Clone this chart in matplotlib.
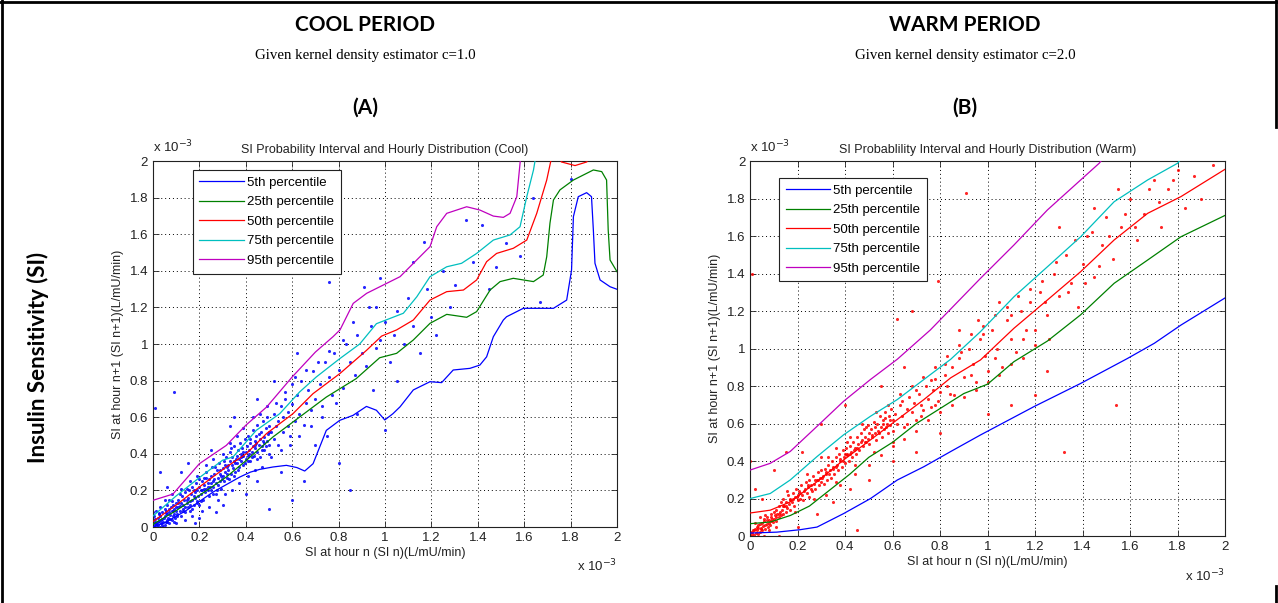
import matplotlib
matplotlib.use("Agg")
import matplotlib.pyplot as plt
from matplotlib.lines import Line2D
from matplotlib.ticker import FuncFormatter, MultipleLocator

# ---- data (units of 1e-3 L/mU/min) ----
percentiles = ["5th percentile", "25th percentile", "50th percentile",
               "75th percentile", "95th percentile"]

# cool period percentile curves
cool_p5_x = [0, 0.057, 0.144, 0.259, 0.374, 0.42, 0.46, 0.517, 0.575, 0.62, 0.654, 0.69, 0.747,
             0.805, 0.862, 0.92, 0.963, 0.999, 1.034, 1.065, 1.122, 1.194, 1.244, 1.294,
             1.366, 1.409, 1.438, 1.467, 1.51, 1.524, 1.596, 1.726, 1.783, 1.804, 1.812,
             1.833, 1.869, 1.89, 1.898, 1.905, 1.927, 1.97, 2.0]
cool_p5_y = [0, 0.027, 0.091, 0.191, 0.273, 0.3, 0.315, 0.328, 0.337, 0.325, 0.306, 0.346,
             0.528, 0.583, 0.61, 0.659, 0.638, 0.585, 0.619, 0.657, 0.749, 0.794, 0.789,
             0.858, 0.867, 0.885, 0.93, 1.04, 1.131, 1.149, 1.195, 1.195, 1.24, 1.404,
             1.696, 1.805, 1.827, 1.805, 1.623, 1.441, 1.35, 1.313, 1.299]
cool_p25_x = [0, 0.1, 0.2, 0.316, 0.402, 0.517, 0.632, 0.747, 0.876, 0.977, 1.05, 1.122,
              1.194, 1.266, 1.352, 1.395, 1.453, 1.496, 1.553, 1.64, 1.682, 1.697, 1.711,
              1.726, 1.754, 1.812, 1.898, 1.934, 1.955, 1.962, 1.97, 2.0]
cool_p25_y = [0.015, 0.09, 0.173, 0.273, 0.364, 0.492, 0.601, 0.71, 0.811, 0.925, 0.949, 1.022,
              1.113, 1.162, 1.146, 1.177, 1.295, 1.341, 1.359, 1.341, 1.377, 1.477, 1.66,
              1.787, 1.842, 1.896, 1.951, 1.942, 1.896, 1.623, 1.459, 1.395]
cool_p50_x = [0, 0.1, 0.2, 0.316, 0.402, 0.489, 0.603, 0.69, 0.805, 0.92, 0.985, 1.05,
              1.122, 1.194, 1.266, 1.338, 1.395, 1.438, 1.481, 1.553, 1.611, 1.654, 1.697,
              1.714, 1.74, 1.76, 1.819, 1.87, 1.89]
cool_p50_y = [0.03, 0.12, 0.219, 0.328, 0.4, 0.51, 0.619, 0.729, 0.838, 0.965, 1.043, 1.077,
              1.131, 1.24, 1.286, 1.295, 1.35, 1.45, 1.495, 1.523, 1.568, 1.714, 1.896,
              1.996, 2.1, 1.995, 1.975, 1.995, 2.1]
cool_p75_x = [0, 0.1, 0.2, 0.3, 0.345, 0.445, 0.546, 0.632, 0.704, 0.805, 0.891, 0.963,
              1.079, 1.137, 1.194, 1.266, 1.33, 1.395, 1.467, 1.539, 1.582, 1.611, 1.64, 1.66]
cool_p75_y = [0.06, 0.17, 0.27, 0.365, 0.383, 0.528, 0.619, 0.738, 0.82, 0.92, 1.0, 1.111,
              1.168, 1.258, 1.368, 1.422, 1.441, 1.495, 1.568, 1.596, 1.641, 1.805, 1.951, 2.1]
cool_p95_x = [0, 0.086, 0.2, 0.316, 0.4, 0.49, 0.6, 0.7, 0.776, 0.806, 0.863, 0.921, 0.978,
              1.065, 1.194, 1.223, 1.266, 1.352, 1.409, 1.467, 1.51, 1.539, 1.568, 1.582, 1.59]
cool_p95_y = [0.146, 0.18, 0.346, 0.446, 0.556, 0.656, 0.82, 0.956, 1.04, 1.077, 1.222,
              1.277, 1.313, 1.368, 1.532, 1.641, 1.714, 1.75, 1.732, 1.699, 1.692, 1.714,
              1.805, 1.987, 2.1]

# warm period percentile curves
warm_p5_x = [0, 0.113, 0.211, 0.282, 0.394, 0.507, 0.62, 0.732, 0.845, 0.97, 1.195, 1.392,
             1.589, 1.702, 1.814, 2.0]
warm_p5_y = [0.016, 0.021, 0.034, 0.048, 0.12, 0.2, 0.299, 0.37, 0.451, 0.539, 0.69, 0.814,
             0.947, 1.028, 1.125, 1.27]
warm_p25_x = [0, 0.085, 0.17, 0.25, 0.33, 0.42, 0.5, 0.6, 0.7, 0.8, 0.9, 1.0, 1.111, 1.252,
              1.392, 1.533, 1.674, 1.814, 2.0]
warm_p25_y = [0.066, 0.075, 0.11, 0.16, 0.24, 0.33, 0.42, 0.5, 0.6, 0.68, 0.76, 0.81, 0.93,
              1.04, 1.18, 1.348, 1.472, 1.596, 1.71]
warm_p50_x = [0, 0.085, 0.169, 0.282, 0.394, 0.507, 0.62, 0.732, 0.845, 0.97, 1.111, 1.252,
              1.392, 1.533, 1.674, 1.814, 2.0]
warm_p50_y = [0.123, 0.138, 0.182, 0.29, 0.406, 0.513, 0.621, 0.728, 0.844, 0.939, 1.108,
              1.259, 1.41, 1.579, 1.721, 1.81, 1.956]
warm_p75_x = [0, 0.085, 0.169, 0.282, 0.394, 0.507, 0.62, 0.732, 0.845, 0.97, 1.111, 1.252,
              1.392, 1.533, 1.674, 1.8, 1.82]
warm_p75_y = [0.2, 0.227, 0.299, 0.424, 0.54, 0.639, 0.728, 0.835, 0.943, 1.09, 1.276, 1.436,
              1.596, 1.783, 1.899, 1.988, 2.02]
warm_p95_x = [0, 0.085, 0.169, 0.282, 0.394, 0.507, 0.62, 0.759, 0.97, 1.111, 1.252, 1.392,
              1.47, 1.49]
warm_p95_y = [0.352, 0.388, 0.451, 0.585, 0.719, 0.835, 0.943, 1.099, 1.374, 1.552, 1.739,
              1.899, 1.988, 2.02]

# hourly SI pairs, cool period (SI n, SI n+1)
cool_pts = [
    (0.005, 0.01), (0.01, 0.0), (0.01, 0.03), (0.015, 0.02), (0.02, 0.05), (0.02, 0.01),
    (0.025, 0.035), (0.03, 0.0), (0.03, 0.06), (0.035, 0.02), (0.04, 0.045), (0.04, 0.08),
    (0.045, 0.03), (0.05, 0.06), (0.05, 0.01), (0.055, 0.09), (0.06, 0.04), (0.06, 0.07),
    (0.065, 0.05), (0.07, 0.1), (0.07, 0.02), (0.075, 0.065), (0.08, 0.085), (0.08, 0.04),
    (0.085, 0.12), (0.09, 0.07), (0.09, 0.1), (0.095, 0.05), (0.1, 0.09), (0.1, 0.13),
    (0.0, 0.04), (0.0, 0.08), (0.005, 0.06), (0.015, 0.09), (0.03, 0.11), (0.045, 0.0),
    (0.06, 0.12), (0.07, 0.15), (0.012, 0.015), (0.022, 0.028), (0.033, 0.04), (0.048, 0.052),
    (0.058, 0.025), (0.068, 0.08), (0.078, 0.11), (0.088, 0.06), (0.098, 0.11),
    (0.105, 0.07), (0.11, 0.11), (0.11, 0.15), (0.115, 0.09), (0.12, 0.13), (0.12, 0.06),
    (0.125, 0.17), (0.13, 0.12), (0.13, 0.1), (0.135, 0.15), (0.14, 0.08), (0.14, 0.19),
    (0.145, 0.13), (0.15, 0.16), (0.15, 0.11), (0.155, 0.2), (0.16, 0.14), (0.16, 0.09),
    (0.165, 0.18), (0.17, 0.15), (0.17, 0.22), (0.175, 0.12), (0.18, 0.19), (0.18, 0.16),
    (0.185, 0.24), (0.19, 0.14), (0.19, 0.2), (0.195, 0.17), (0.2, 0.22), (0.2, 0.12),
    (0.205, 0.18), (0.21, 0.25), (0.21, 0.2), (0.215, 0.15), (0.22, 0.23), (0.22, 0.27),
    (0.225, 0.19), (0.23, 0.21), (0.23, 0.3), (0.235, 0.24), (0.24, 0.17), (0.24, 0.26),
    (0.245, 0.22), (0.25, 0.28), (0.25, 0.2), (0.255, 0.33), (0.26, 0.25), (0.26, 0.22),
    (0.265, 0.29), (0.27, 0.24), (0.27, 0.18), (0.275, 0.31), (0.28, 0.27), (0.28, 0.23),
    (0.285, 0.35), (0.29, 0.29), (0.29, 0.25), (0.295, 0.21), (0.3, 0.32), (0.3, 0.28),
    (0.305, 0.25), (0.31, 0.34), (0.31, 0.3), (0.315, 0.38), (0.32, 0.27), (0.32, 0.33),
    (0.325, 0.31), (0.33, 0.36), (0.33, 0.41), (0.335, 0.29), (0.34, 0.34), (0.34, 0.38),
    (0.345, 0.32), (0.35, 0.44), (0.35, 0.36), (0.355, 0.3), (0.36, 0.39), (0.36, 0.35),
    (0.365, 0.42), (0.37, 0.37), (0.37, 0.33), (0.375, 0.46), (0.38, 0.4), (0.38, 0.36),
    (0.385, 0.43), (0.39, 0.34), (0.39, 0.39), (0.395, 0.48), (0.4, 0.41), (0.4, 0.37),
    (0.405, 0.44), (0.41, 0.39), (0.41, 0.5), (0.415, 0.42), (0.42, 0.36), (0.42, 0.46),
    (0.425, 0.41), (0.43, 0.44), (0.43, 0.53), (0.435, 0.39), (0.44, 0.47), (0.44, 0.43),
    (0.445, 0.5), (0.45, 0.41), (0.45, 0.56), (0.455, 0.45), (0.46, 0.48), (0.46, 0.38),
    (0.465, 0.52), (0.47, 0.44), (0.475, 0.58), (0.48, 0.49), (0.48, 0.42), (0.485, 0.54),
    (0.49, 0.47), (0.49, 0.6), (0.495, 0.51), (0.5, 0.45), (0.5, 0.55), (0.5, 0.4),
    (0.008, 0.045), (0.018, 0.0), (0.028, 0.075), (0.038, 0.01), (0.052, 0.1), (0.062, 0.03),
    (0.072, 0.045), (0.082, 0.14), (0.092, 0.03), (0.102, 0.06), (0.108, 0.13), (0.118, 0.18),
    (0.128, 0.085), (0.138, 0.11), (0.148, 0.21), (0.158, 0.12), (0.168, 0.1), (0.178, 0.2),
    (0.188, 0.13), (0.198, 0.26), (0.208, 0.14), (0.218, 0.21), (0.228, 0.27), (0.238, 0.2),
    (0.248, 0.24), (0.258, 0.18), (0.268, 0.33), (0.278, 0.2), (0.288, 0.31), (0.298, 0.26),
    (0.308, 0.36), (0.318, 0.29), (0.328, 0.26), (0.338, 0.43), (0.348, 0.28), (0.358, 0.37),
    (0.368, 0.31), (0.378, 0.38), (0.388, 0.41), (0.398, 0.35), (0.408, 0.36), (0.418, 0.48),
    (0.428, 0.38), (0.438, 0.45), (0.448, 0.37), (0.458, 0.51), (0.468, 0.42), (0.478, 0.46),
    (0.488, 0.44), (0.498, 0.52), (0.025, 0.07), (0.055, 0.075), (0.085, 0.09), (0.115, 0.115),
    (0.145, 0.145), (0.175, 0.17), (0.205, 0.205), (0.235, 0.22), (0.265, 0.265),
    (0.295, 0.28), (0.325, 0.34), (0.355, 0.35), (0.385, 0.39), (0.415, 0.4), (0.445, 0.46),
    (0.475, 0.47),
    (0.05, 0.15), (0.08, 0.18), (0.1, 0.02), (0.12, 0.21), (0.14, 0.04), (0.16, 0.25),
    (0.17, 0.06), (0.19, 0.28), (0.21, 0.09), (0.23, 0.34), (0.24, 0.11), (0.26, 0.37),
    (0.28, 0.15), (0.3, 0.4), (0.31, 0.18), (0.33, 0.46), (0.34, 0.2), (0.36, 0.5),
    (0.37, 0.24), (0.39, 0.54), (0.41, 0.28), (0.43, 0.6), (0.44, 0.31), (0.46, 0.62),
    (0.47, 0.33), (0.49, 0.66), (0.51, 0.38), (0.53, 0.68), (0.55, 0.42), (0.57, 0.74),
    (0.59, 0.45), (0.61, 0.82), (0.63, 0.5), (0.66, 0.86), (0.68, 0.55), (0.71, 0.9),
    (0.73, 0.6), (0.76, 0.96), (0.79, 0.68), (0.82, 1.02),
    (0.51, 0.52), (0.52, 0.48), (0.52, 0.62), (0.53, 0.55), (0.54, 0.45), (0.54, 0.58),
    (0.55, 0.66), (0.56, 0.52), (0.56, 0.6), (0.57, 0.7), (0.58, 0.55), (0.58, 0.63),
    (0.59, 0.5), (0.6, 0.67), (0.6, 0.78), (0.61, 0.58), (0.62, 0.72), (0.63, 0.62),
    (0.64, 0.8), (0.65, 0.56), (0.66, 0.68), (0.67, 0.75), (0.68, 0.64), (0.69, 0.85),
    (0.7, 0.7), (0.72, 0.78), (0.73, 0.66), (0.74, 0.9), (0.76, 0.82), (0.77, 0.72),
    (0.78, 0.95), (0.8, 0.86), (0.82, 0.76), (0.83, 1.0), (0.85, 0.9), (0.87, 0.83),
    (0.88, 1.05), (0.9, 0.95), (0.92, 0.88), (0.94, 1.1), (0.96, 0.98), (0.98, 1.02),
    (1.0, 1.12), (0.93, 1.2), (0.86, 1.12), (0.76, 1.34), (0.91, 1.31), (0.98, 1.36),
    (0.96, 1.2), (1.02, 0.9), (1.04, 1.05), (1.05, 1.18), (1.08, 1.0), (1.1, 1.25),
    (1.12, 1.1), (1.15, 0.95), (1.18, 1.3), (1.2, 1.15), (1.22, 1.05), (1.25, 1.4),
    (1.28, 1.2), (1.3, 1.32), (1.35, 1.68), (1.38, 1.45), (1.42, 1.65), (1.45, 1.3),
    (1.48, 1.42), (1.52, 1.55), (1.58, 1.48), (1.64, 1.8), (1.67, 1.23), (1.8, 1.9),
    (1.12, 1.45), (1.17, 1.56), (0.01, 0.65), (0.09, 0.74), (0.03, 0.3), (0.06, 0.22),
    (0.15, 0.35), (0.2, 0.05), (0.25, 0.42), (0.3, 0.12), (0.35, 0.6), (0.4, 0.18),
    (0.45, 0.25), (0.5, 0.1), (0.55, 0.3), (0.6, 0.15), (0.62, 0.95), (0.65, 0.25),
    (0.7, 0.45), (0.75, 0.5), (0.8, 0.35), (0.85, 0.2), (0.88, 0.62), (0.95, 0.75),
    (1.0, 0.53), (1.05, 0.8), (0.52, 0.8), (0.45, 0.7), (0.12, 0.3), (0.18, 0.02),
    (0.27, 0.08), (0.33, 0.55),
]

# hourly SI pairs, warm period
warm_pts = [
    (0.005, 0.0), (0.01, 0.02), (0.015, 0.005), (0.02, 0.04), (0.025, 0.015), (0.03, 0.03),
    (0.035, 0.06), (0.04, 0.02), (0.045, 0.045), (0.05, 0.07), (0.05, 0.03), (0.055, 0.055),
    (0.06, 0.08), (0.065, 0.04), (0.07, 0.065), (0.07, 0.1), (0.075, 0.05), (0.08, 0.085),
    (0.085, 0.06), (0.09, 0.1), (0.09, 0.12), (0.095, 0.075), (0.1, 0.09), (0.1, 0.13),
    (0.0, 0.02), (0.02, 0.07), (0.04, 0.1), (0.06, 0.0), (0.08, 0.03), (0.012, 0.035),
    (0.028, 0.05), (0.042, 0.065), (0.058, 0.09), (0.072, 0.085), (0.088, 0.08),
    (0.105, 0.11), (0.11, 0.08), (0.11, 0.14), (0.115, 0.12), (0.12, 0.1), (0.12, 0.16),
    (0.125, 0.13), (0.13, 0.11), (0.13, 0.18), (0.135, 0.14), (0.14, 0.12), (0.14, 0.2),
    (0.145, 0.16), (0.15, 0.13), (0.15, 0.18), (0.155, 0.15), (0.16, 0.22), (0.165, 0.17),
    (0.17, 0.14), (0.17, 0.2), (0.175, 0.18), (0.18, 0.23), (0.185, 0.16), (0.19, 0.21),
    (0.195, 0.25), (0.2, 0.19), (0.2, 0.22), (0.205, 0.24), (0.21, 0.2), (0.215, 0.27),
    (0.22, 0.22), (0.225, 0.19), (0.23, 0.25), (0.235, 0.29), (0.24, 0.23), (0.245, 0.26),
    (0.25, 0.21), (0.25, 0.3), (0.255, 0.27), (0.26, 0.24), (0.265, 0.32), (0.27, 0.28),
    (0.275, 0.25), (0.28, 0.3), (0.285, 0.34), (0.29, 0.27), (0.295, 0.31), (0.3, 0.29),
    (0.3, 0.35), (0.305, 0.32), (0.31, 0.28), (0.315, 0.36), (0.32, 0.33), (0.325, 0.3),
    (0.33, 0.38), (0.335, 0.35), (0.34, 0.31), (0.345, 0.4), (0.35, 0.36), (0.355, 0.33),
    (0.36, 0.42), (0.365, 0.38), (0.37, 0.35), (0.375, 0.44), (0.38, 0.4), (0.385, 0.37),
    (0.39, 0.46), (0.395, 0.42), (0.4, 0.39), (0.4, 0.44), (0.405, 0.47), (0.41, 0.43),
    (0.415, 0.4), (0.42, 0.48), (0.425, 0.45), (0.43, 0.42), (0.435, 0.5), (0.44, 0.47),
    (0.445, 0.44), (0.45, 0.53), (0.455, 0.49), (0.46, 0.46), (0.465, 0.55), (0.47, 0.51),
    (0.475, 0.48), (0.48, 0.57), (0.485, 0.53), (0.49, 0.5), (0.495, 0.59), (0.5, 0.55),
    (0.5, 0.49), (0.51, 0.57), (0.515, 0.53), (0.52, 0.61), (0.525, 0.55), (0.53, 0.51),
    (0.535, 0.6), (0.54, 0.56), (0.545, 0.64), (0.55, 0.58), (0.555, 0.53), (0.56, 0.62),
    (0.565, 0.57), (0.57, 0.66), (0.575, 0.6), (0.58, 0.55), (0.585, 0.64), (0.59, 0.59),
    (0.595, 0.68), (0.6, 0.62), (0.6, 0.56),
    (0.008, 0.012), (0.018, 0.03), (0.032, 0.045), (0.048, 0.04), (0.062, 0.06),
    (0.078, 0.07), (0.092, 0.09), (0.108, 0.1), (0.122, 0.12), (0.138, 0.16), (0.152, 0.16),
    (0.168, 0.19), (0.182, 0.2), (0.198, 0.21), (0.212, 0.23), (0.228, 0.24), (0.242, 0.27),
    (0.258, 0.25), (0.272, 0.3), (0.288, 0.3), (0.302, 0.31), (0.318, 0.34), (0.332, 0.33),
    (0.348, 0.37), (0.362, 0.37), (0.378, 0.41), (0.392, 0.4), (0.408, 0.44), (0.422, 0.44),
    (0.438, 0.46), (0.452, 0.47), (0.468, 0.5), (0.482, 0.5), (0.498, 0.52), (0.512, 0.54),
    (0.528, 0.58), (0.542, 0.55), (0.558, 0.6), (0.572, 0.58), (0.588, 0.62), (0.035, 0.01),
    (0.065, 0.11), (0.11, 0.05), (0.155, 0.24), (0.19, 0.13), (0.24, 0.33), (0.27, 0.2),
    (0.33, 0.42), (0.36, 0.29), (0.41, 0.5), (0.44, 0.38), (0.49, 0.58), (0.52, 0.45),
    (0.57, 0.63), (0.6, 0.5), (0.64, 0.72), (0.66, 0.6), (0.7, 0.78), (0.72, 0.64),
    (0.76, 0.83), (0.78, 0.7), (0.82, 0.92), (0.84, 0.76), (0.89, 0.98), (0.93, 0.86),
    (0.98, 1.08), (1.03, 0.95), (1.1, 1.18), (1.15, 1.05), (1.24, 1.25),
    (0.3, 0.42), (0.32, 0.22), (0.36, 0.47), (0.38, 0.27), (0.42, 0.53), (0.44, 0.33),
    (0.47, 0.6), (0.5, 0.38), (0.53, 0.66), (0.55, 0.43), (0.58, 0.7), (0.6, 0.48),
    (0.63, 0.76), (0.65, 0.52), (0.68, 0.8), (0.7, 0.56), (0.73, 0.85), (0.75, 0.62),
    (0.78, 0.9), (0.8, 0.66), (0.83, 0.96), (0.85, 0.7), (0.88, 1.02), (0.9, 0.74),
    (0.93, 1.08), (0.95, 0.78), (0.98, 1.12), (1.0, 0.82), (1.03, 1.18), (1.05, 0.86),
    (1.08, 1.22), (1.1, 0.92), (1.13, 1.28), (1.15, 0.95), (1.18, 1.32), (1.2, 1.1),
    (1.23, 1.36), (1.26, 1.05), (1.29, 1.46), (1.34, 1.3), (1.37, 1.58), (1.41, 1.35),
    (1.44, 1.62), (1.47, 1.44), (1.51, 1.6), (1.58, 1.72), (1.62, 1.65), (1.68, 1.85),
    (1.72, 1.78), (1.78, 1.9),
    (0.61, 0.65), (0.62, 0.6), (0.63, 0.7),
    (0.64, 0.64), (0.65, 0.58), (0.66, 0.68), (0.67, 0.74), (0.68, 0.66), (0.69, 0.71),
    (0.7, 0.62), (0.71, 0.76), (0.72, 0.7), (0.73, 0.67), (0.74, 0.8), (0.75, 0.73),
    (0.76, 0.69), (0.77, 0.78), (0.78, 0.84), (0.79, 0.72), (0.8, 0.77), (0.82, 0.86),
    (0.83, 0.8), (0.85, 0.9), (0.86, 0.75), (0.88, 0.95), (0.9, 0.85), (0.92, 1.0),
    (0.94, 0.92), (0.95, 0.82), (0.97, 1.05), (0.99, 0.96), (1.0, 0.88), (1.02, 1.1),
    (1.04, 1.0), (1.06, 0.9), (1.08, 1.15), (1.1, 1.05), (1.12, 0.98), (1.14, 1.2),
    (1.16, 1.1), (1.18, 1.25), (1.2, 1.02), (0.88, 1.1), (0.96, 1.15), (1.05, 1.25),
    (1.22, 1.3), (1.25, 1.18), (1.28, 1.4), (1.3, 1.28), (1.33, 1.5), (1.35, 1.35),
    (1.38, 1.22), (1.4, 1.45), (1.42, 1.6), (1.45, 1.38), (1.48, 1.55), (1.5, 1.7),
    (1.53, 1.48), (1.56, 1.65), (1.6, 1.8), (1.63, 1.58), (1.66, 1.72), (1.7, 1.9),
    (1.73, 1.65), (1.76, 1.85), (1.8, 1.95), (1.83, 1.75), (1.87, 1.92), (1.9, 1.8),
    (1.95, 1.98), (1.3, 1.65), (1.45, 1.75), (1.55, 1.85), (0.0, 0.4), (0.007, 1.4),
    (0.02, 0.25), (0.05, 0.2), (0.1, 0.35), (0.12, 0.0), (0.15, 0.45), (0.2, 0.05),
    (0.22, 0.45), (0.28, 0.12), (0.3, 0.6), (0.35, 0.18), (0.4, 0.7), (0.42, 0.25),
    (0.5, 0.3), (0.55, 0.8), (0.6, 0.4), (0.65, 0.9), (0.68, 1.2), (0.7, 0.45),
    (0.79, 1.36), (0.8, 0.55), (0.91, 1.83), (1.0, 0.65), (1.1, 0.7), (1.2, 0.75),
    (1.32, 0.45), (1.54, 0.7), (1.25, 0.88), (0.62, 1.16), (0.45, 0.03),
]

line_colors = ["#0000ff", "#008000", "#ff0000", "#00bfbf", "#bf00bf"]

plt.rcParams["font.family"] = ["Liberation Sans", "DejaVu Sans"]

fig = plt.figure(figsize=(12.78, 6.03), dpi=100)
fig.patch.set_facecolor("white")


def draw_panel(ax, pts, point_color, curves, title, legend_anchor):
    xs = [p[0] for p in pts]
    ys = [p[1] for p in pts]
    ax.scatter(xs, ys, s=5, color=point_color, linewidths=0, alpha=0.85, zorder=2)
    for (cx, cy), col, lab in zip(curves, line_colors, percentiles):
        ax.plot(cx, cy, color=col, lw=0.9, label=lab, zorder=3)
    ax.set_xlim(0, 2)
    ax.set_ylim(0, 2)
    ax.xaxis.set_major_locator(MultipleLocator(0.2))
    ax.yaxis.set_major_locator(MultipleLocator(0.2))
    fmt = FuncFormatter(lambda v, p: "%g" % round(v, 1))
    ax.xaxis.set_major_formatter(fmt)
    ax.yaxis.set_major_formatter(fmt)
    ax.tick_params(direction="in", length=4, width=0.6, labelsize=9.5,
                   top=True, right=True, colors="#222222", labelcolor="#222222")
    ax.grid(True, color="black", linestyle=(0, (1, 3)), linewidth=0.7)
    for sp in ax.spines.values():
        sp.set_linewidth(0.8)
        sp.set_color("#222222")
    ax.set_title(title, fontsize=9, pad=6, color="#222222")
    ax.set_xlabel("SI at hour n (SI n)(L/mU/min)", fontsize=9, labelpad=2, color="#222222")
    ax.set_ylabel("SI at hour n+1 (SI n+1)(L/mU/min)", fontsize=9, labelpad=4, color="#222222")
    leg = ax.legend(loc="upper left", bbox_to_anchor=legend_anchor, fontsize=9.5,
                    handlelength=3.4, handletextpad=0.2, labelspacing=0.55,
                    borderpad=0.5, fancybox=False, framealpha=1, borderaxespad=0)
    leg.get_frame().set_edgecolor("#222222")
    leg.get_frame().set_linewidth(0.8)
    ax.text(0, 1.015, r"x 10$^{-3}$", transform=ax.transAxes, fontsize=9.5,
            ha="left", va="bottom", color="#222222")
    ax.text(1.0, -0.085, r"x 10$^{-3}$", transform=ax.transAxes, fontsize=9.5,
            ha="right", va="top", color="#222222")


ax_a = fig.add_axes([0.1197, 0.126, 0.3631, 0.607])
draw_panel(ax_a, cool_pts, "#0000ff",
           [(cool_p5_x, cool_p5_y), (cool_p25_x, cool_p25_y), (cool_p50_x, cool_p50_y),
            (cool_p75_x, cool_p75_y), (cool_p95_x, cool_p95_y)],
           "SI Probability Interval and Hourly Distribution (Cool)", (0.086, 0.975))

ax_b = fig.add_axes([0.5869, 0.111, 0.3717, 0.622])
draw_panel(ax_b, warm_pts, "#ff0000",
           [(warm_p5_x, warm_p5_y), (warm_p25_x, warm_p25_y), (warm_p50_x, warm_p50_y),
            (warm_p75_x, warm_p75_y), (warm_p95_x, warm_p95_y)],
           "SI Probablility Interval and Hourly Distribution (Warm)", (0.061, 0.955))

# headings
head_font = ["Lato", "DejaVu Sans"]
fig.text(365 / 1278, 1 - 25 / 603, "COOL PERIOD", family=head_font, weight="bold",
         fontsize=15, ha="center", va="center")
fig.text(365 / 1278, 1 - 55 / 603, "Given kernel density estimator c=1.0",
         family=["Liberation Serif"], fontsize=10.7, ha="center", va="center")
fig.text(365 / 1278, 1 - 108 / 603, "(A)", family=head_font, weight="bold",
         fontsize=15, ha="center", va="center")
fig.text(965 / 1278, 1 - 25 / 603, "WARM PERIOD", family=head_font, weight="bold",
         fontsize=15, ha="center", va="center")
fig.text(965 / 1278, 1 - 55 / 603, "Given kernel density estimator c=2.0",
         family=["Liberation Serif"], fontsize=10.7, ha="center", va="center")
fig.text(965 / 1278, 1 - 108 / 603, "(B)", family=head_font, weight="bold",
         fontsize=15, ha="center", va="center")
fig.text(38 / 1278, 1 - 357 / 603, "Insulin Sensitivity (SI)", family=head_font,
         weight="bold", fontsize=16, rotation=90, ha="center", va="center")

# outer frame
frame_kw = dict(color="black", lw=2, transform=fig.transFigure)
fig.add_artist(Line2D([2 / 1278, 2 / 1278], [0, 1], **frame_kw))
fig.add_artist(Line2D([0, 1], [1 - 2 / 603, 1 - 2 / 603], **frame_kw))
fig.add_artist(Line2D([1276 / 1278, 1276 / 1278], [1, 1 - 127 / 603], **frame_kw))
fig.add_artist(Line2D([1276 / 1278, 1276 / 1278], [0, 1 - 586 / 603], **frame_kw))

fig.savefig("out.png", dpi=100, facecolor="white")
